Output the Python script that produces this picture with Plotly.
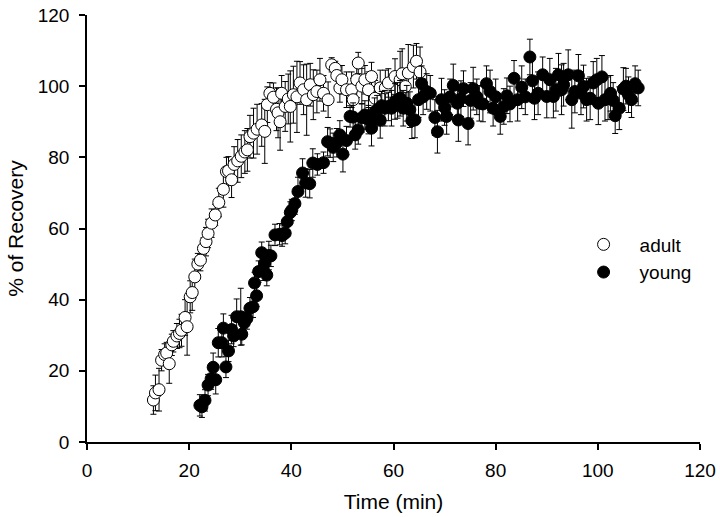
import plotly.graph_objects as go

# adult recovery (time in min, % of recovery, error)
adult_t = [13.0, 13.4, 14.1, 14.6, 15.2, 15.6, 16.1, 16.6, 16.9, 17.6, 18.1, 18.5, 19.2, 19.6,
           20.2, 20.6, 21.1, 21.7, 22.2, 22.8, 23.3, 23.7, 24.4, 25.1, 25.8, 26.7, 27.3, 27.7,
           28.3, 28.8, 29.5, 30.2, 30.9, 31.4, 31.9, 32.6, 33.3, 34.2, 34.8, 35.3, 35.8, 36.5,
           37.1, 37.4, 37.8, 38.1, 38.8, 39.4, 39.8, 40.4, 41.1, 41.7, 42.4, 43.0, 43.7, 44.3,
           45.0, 45.6, 46.3, 47.2, 47.9, 48.6, 48.9, 49.5, 49.9, 50.8, 51.8, 52.1, 52.8, 53.1,
           53.8, 54.4, 55.1, 55.7, 56.4, 57.4, 58.4, 59.0, 60.3, 61.3, 61.7, 62.3, 62.9, 63.9,
           64.5, 65.2]
adult_y = [11.8, 13.8, 14.7, 23.0, 24.6, 25.0, 22.0, 27.3, 28.3, 29.8, 30.5, 31.4, 35.0, 32.4,
           40.8, 42.0, 46.4, 50.0, 51.1, 54.4, 56.3, 58.6, 61.5, 63.8, 67.3, 71.0, 76.0, 76.2,
           73.7, 78.0, 79.0, 80.3, 81.5, 82.1, 85.8, 86.8, 87.9, 89.1, 87.3, 94.8, 98.0, 96.9,
           93.5, 92.5, 90.0, 98.0, 94.3, 96.4, 94.3, 97.6, 97.0, 100.9, 99.0, 96.2, 100.4, 97.6,
           98.5, 101.8, 98.0, 96.2, 106.0, 105.0, 103.0, 99.5, 101.8, 99.0, 99.0, 96.2, 101.8, 106.5,
           100.0, 101.8, 99.0, 102.7, 96.6, 99.5, 99.5, 100.9, 102.7, 101.8, 103.5, 99.9, 103.7, 105.5,
           107.0, 104.0]
adult_err = [4, 5, 6, 3, 3, 3, 5.5, 3, 3, 3.5, 4, 4.5, 5, 8,
             4.5, 5, 5, 3, 3, 3, 4, 4, 4, 3, 4, 5, 4, 4,
             5, 5, 6, 6, 6, 6, 6, 7, 7, 6, 9, 5, 3, 4,
             6, 7, 8, 5, 7, 7, 10, 8, 10, 6, 7, 10, 6, 7,
             6, 6, 5, 5, 2, 2, 3, 4, 4, 5, 5, 6, 5, 3,
             5, 4, 5, 4, 5, 5, 5, 4, 5, 8, 7, 5, 8, 6,
             5, 7]

# young recovery
young_t = [22.1, 22.5, 23.1, 23.7, 24.3, 24.7, 25.2, 25.7, 26.4, 26.7, 27.2, 27.7, 28.3, 28.7,
           29.3, 30.1, 30.3, 30.8, 31.3, 31.9, 32.5, 32.8, 33.2, 33.6, 34.2, 34.5, 34.8, 35.2,
           35.6, 36.0, 36.8, 37.7, 38.2, 38.8, 39.2, 39.8, 40.1, 40.7, 41.3, 42.2, 42.8, 43.6,
           44.2, 45.1, 46.3, 47.1, 47.6, 48.2, 48.9, 49.5, 50.1, 50.8, 51.5, 52.1, 52.5, 53.1,
           53.8, 54.4, 55.1, 55.7, 56.3, 56.8, 57.4, 57.7, 58.3, 59.0, 59.6, 60.3, 60.8, 61.3,
           61.9, 62.6, 63.2, 63.6, 64.2, 64.9, 65.5, 65.8, 66.5, 67.2, 68.1, 68.6, 69.4, 70.0,
           70.4, 71.1, 71.7, 72.5, 72.7, 73.2, 73.7, 74.6, 75.1, 75.6, 76.3, 76.8, 77.5, 78.2,
           78.9, 79.5, 80.0, 80.9, 81.6, 82.2, 82.8, 83.6, 84.3, 85.1, 85.8, 86.7, 87.2, 87.6,
           88.3, 89.2, 90.0, 90.6, 91.3, 91.8, 92.3, 92.9, 93.3, 94.2, 94.9, 95.5, 96.2, 96.7,
           97.2, 97.8, 98.5, 99.1, 99.8, 100.1, 100.8, 101.4, 102.0, 102.5, 103.0, 103.4, 104.2, 105.0,
           105.5, 106.0, 106.6, 107.3, 107.9]
young_y = [10.3, 9.9, 11.7, 16.0, 17.8, 21.0, 17.5, 27.9, 27.9, 32.0, 21.1, 25.6, 31.6, 29.8,
           35.2, 35.2, 30.3, 33.5, 34.7, 37.6, 38.0, 44.7, 41.1, 47.9, 53.2, 48.4, 50.3, 46.9,
           52.4, 52.3, 58.2, 58.4, 58.0, 58.7, 61.9, 64.5, 65.2, 67.0, 70.4, 75.6, 72.8, 72.6,
           78.4, 78.0, 78.5, 84.4, 84.0, 82.8, 84.1, 86.3, 80.9, 84.7, 91.5, 91.3, 86.3, 87.7,
           91.1, 91.9, 90.6, 88.2, 92.7, 93.4, 90.4, 94.5, 93.8, 94.3, 93.8, 95.7, 96.0, 96.6,
           93.8, 95.2, 93.4, 90.3, 90.5, 96.2, 100.7, 97.0, 98.5, 98.0, 91.2, 87.2, 96.2, 94.0,
           91.5, 97.0, 100.2, 95.2, 90.5, 96.5, 99.3, 89.5, 96.0, 99.3, 97.0, 95.2, 95.0, 100.7,
           98.5, 93.8, 97.0, 91.5, 94.3, 97.3, 95.0, 102.2, 96.2, 99.7, 97.0, 108.2, 101.5, 96.6,
           98.0, 103.2, 97.1, 101.8, 97.1, 99.0, 103.2, 99.0, 100.4, 103.2, 96.2, 98.5, 102.9, 98.0,
           99.9, 96.2, 96.6, 100.9, 101.8, 95.2, 102.6, 96.2, 96.6, 98.0, 96.0, 91.7, 93.8, 99.2,
           100.0, 97.6, 96.2, 100.7, 99.5]
young_err = [3, 3, 3, 3, 3, 4, 4, 4, 4, 4, 3, 3, 4, 3,
             5, 8, 3, 3, 3, 3, 3, 3, 3, 3, 3, 3, 3, 3,
             4, 3, 3, 3, 3, 3, 3, 3, 3, 3, 4, 4, 4, 4,
             4, 3, 3, 4, 4, 4, 4, 4, 5, 4, 3, 4, 4, 4,
             4, 4, 4, 5, 4, 4, 5, 4, 5, 4, 5, 5, 5, 5,
             5, 5, 5, 5, 5, 5, 5, 5, 5, 5, 5, 6, 6, 5,
             5, 5, 6, 5, 6, 5, 5, 6, 5, 6, 5, 5, 5, 5,
             6, 5, 5, 5, 5, 5, 5, 5, 6, 6, 5, 5, 6, 6,
             6, 5, 6, 6, 6, 6, 6, 7, 6, 7, 8, 6, 6, 6,
             6, 6, 6, 6, 6, 6, 6, 6, 6, 5, 5, 5, 6, 6,
             5, 5, 5, 5, 5]

font = "Liberation Sans"

fig = go.Figure()
fig.add_trace(go.Scatter(
    x=adult_t, y=adult_y, mode="markers", name="adult",
    marker=dict(symbol="circle", size=12, color="white", line=dict(color="black", width=1)),
    error_y=dict(type="data", array=adult_err, color="black", thickness=1, width=3),
))
fig.add_trace(go.Scatter(
    x=young_t, y=young_y, mode="markers", name="young",
    marker=dict(symbol="circle", size=12, color="black", line=dict(color="black", width=1)),
    error_y=dict(type="data", array=young_err, color="black", thickness=1, width=3),
))

axis_style = dict(
    showline=True, linecolor="black", linewidth=1.5,
    ticks="outside", ticklen=6, tickwidth=1.5, tickcolor="black",
    showgrid=False, zeroline=False, range=[0, 120], dtick=20,
    tickfont=dict(family=font, size=19, color="black"),
    automargin=False, ticklabeloverflow="allow",
)

fig.update_layout(
    width=720, height=517,
    margin=dict(l=87, r=20, t=15, b=75),
    plot_bgcolor="white", paper_bgcolor="white",
    font=dict(family=font, color="black"),
    xaxis=dict(axis_style, ticklabelstandoff=4,
               title=dict(text="Time (min)", font=dict(family=font, size=21), standoff=15)),
    yaxis=dict(axis_style, ticklabelstandoff=6,
               title=dict(text="% of Recovery", font=dict(family=font, size=21), standoff=8)),
    legend=dict(x=0.784, y=0.507, xanchor="left", yanchor="top", bgcolor="rgba(0,0,0,0)",
                font=dict(family=font, size=19), itemsizing="trace", itemwidth=62,
                tracegroupgap=0),
)

# drop the page's default body margin so the 720x517 figure fills the window
fig.write_html("out.html", config={"displayModeBar": False},
               post_script="document.body.style.margin='0';")
